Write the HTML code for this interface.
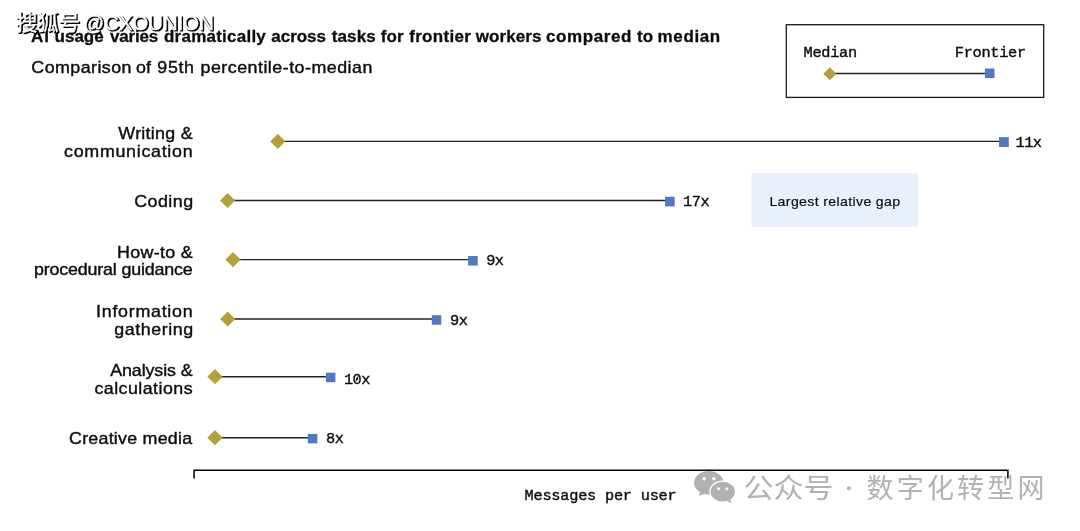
<!DOCTYPE html>
<html><head><meta charset="utf-8">
<style>
html,body{margin:0;padding:0;background:#fff;}
body{width:1080px;height:531px;position:relative;overflow:hidden;font-family:"Liberation Sans",sans-serif;color:#111;}
.abs{position:absolute;white-space:nowrap;line-height:1;}
svg text{white-space:pre;}
</style></head><body>
<svg class="abs" style="left:0;top:0;will-change:transform;opacity:0.999" width="1080" height="531" viewBox="0 0 1080 531">
<line x1="277.8" y1="141.40" x2="1000.0" y2="141.40" stroke="#222" stroke-width="1.4"/>
<path d="M270.20 141.40L277.80 133.80L285.40 141.40L277.80 149.00Z" fill="#b5a037"/>
<rect x="999.00" y="137.20" width="9.8" height="9.8" fill="#5378c3"/>
<line x1="227.6" y1="200.50" x2="666.1" y2="200.50" stroke="#222" stroke-width="1.4"/>
<path d="M220.00 200.50L227.60 192.90L235.20 200.50L227.60 208.10Z" fill="#b5a037"/>
<rect x="665.10" y="196.80" width="9.6" height="9.6" fill="#5378c3"/>
<line x1="233.0" y1="259.60" x2="469.1" y2="259.60" stroke="#222" stroke-width="1.4"/>
<path d="M225.40 259.60L233.00 252.00L240.60 259.60L233.00 267.20Z" fill="#b5a037"/>
<rect x="468.10" y="256.00" width="9.6" height="9.6" fill="#5378c3"/>
<line x1="227.7" y1="319.00" x2="432.8" y2="319.00" stroke="#222" stroke-width="1.4"/>
<path d="M220.10 319.00L227.70 311.40L235.30 319.00L227.70 326.60Z" fill="#b5a037"/>
<rect x="431.80" y="315.20" width="9.5" height="9.5" fill="#5378c3"/>
<line x1="215.0" y1="376.70" x2="326.9" y2="376.70" stroke="#222" stroke-width="1.4"/>
<path d="M207.40 376.70L215.00 369.10L222.60 376.70L215.00 384.30Z" fill="#b5a037"/>
<rect x="325.90" y="372.70" width="9.5" height="9.5" fill="#5378c3"/>
<line x1="214.9" y1="437.70" x2="308.8" y2="437.70" stroke="#222" stroke-width="1.4"/>
<path d="M207.30 437.70L214.90 430.10L222.50 437.70L214.90 445.30Z" fill="#b5a037"/>
<rect x="307.80" y="433.90" width="9.5" height="9.5" fill="#5378c3"/>
<rect x="786.3" y="24.7" width="257.4" height="72.7" fill="none" stroke="#1a1a1a" stroke-width="1.3"/>
<line x1="829.8" y1="73.5" x2="986" y2="73.5" stroke="#222" stroke-width="1.3"/>
<path d="M823.30 73.70L829.80 67.20L836.30 73.70L829.80 80.20Z" fill="#b5a037"/>
<rect x="984.9" y="68.5" width="9.6" height="9.6" fill="#5378c3"/>
<rect x="751.5" y="173.3" width="166.6" height="53.4" fill="#e9f0fd"/><g font-family="Liberation Sans, sans-serif" fill="#0d0d0d" stroke="#0d0d0d" stroke-width="0.4" stroke-linejoin="round">
<text transform="translate(31.10,42) scale(1.0,1)" textLength="17.85" lengthAdjust="spacing" font-size="17" font-weight="bold" stroke-width="0.3">AI</text>
<text transform="translate(54.60,42) scale(1.0,1)" textLength="49.10" lengthAdjust="spacing" font-size="17" font-weight="bold" stroke-width="0.3">usage</text>
<text transform="translate(110.00,42) scale(1.0,1)" textLength="48.20" lengthAdjust="spacing" font-size="17" font-weight="bold" stroke-width="0.3">varies</text>
<text transform="translate(164.00,42) scale(1.0,1)" textLength="101.80" lengthAdjust="spacing" font-size="17" font-weight="bold" stroke-width="0.3">dramatically</text>
<text transform="translate(271.30,42) scale(1.0,1)" textLength="54.70" lengthAdjust="spacing" font-size="17" font-weight="bold" stroke-width="0.3">across</text>
<text transform="translate(331.70,42) scale(1.0,1)" textLength="44.00" lengthAdjust="spacing" font-size="17" font-weight="bold" stroke-width="0.3">tasks</text>
<text transform="translate(380.80,42) scale(1.0,1)" textLength="22.90" lengthAdjust="spacing" font-size="17" font-weight="bold" stroke-width="0.3">for</text>
<text transform="translate(409.20,42) scale(1.0,1)" textLength="61.60" lengthAdjust="spacing" font-size="17" font-weight="bold" stroke-width="0.3">frontier</text>
<text transform="translate(475.80,42) scale(1.0,1)" textLength="65.70" lengthAdjust="spacing" font-size="17" font-weight="bold" stroke-width="0.3">workers</text>
<text transform="translate(546.00,42) scale(1.0,1)" textLength="85.50" lengthAdjust="spacing" font-size="17" font-weight="bold" stroke-width="0.3">compared</text>
<text transform="translate(637.00,42) scale(1.0,1)" textLength="16.20" lengthAdjust="spacing" font-size="17" font-weight="bold" stroke-width="0.3">to</text>
<text transform="translate(657.60,42) scale(1.0,1)" textLength="62.60" lengthAdjust="spacing" font-size="17" font-weight="bold" stroke-width="0.3">median</text>
<text transform="translate(31.30,72.7) scale(1.05,1)" textLength="95.43" lengthAdjust="spacing" font-size="17" >Comparison</text>
<text transform="translate(136.00,72.7) scale(1.05,1)" textLength="14.29" lengthAdjust="spacing" font-size="17" >of</text>
<text transform="translate(157.30,72.7) scale(1.05,1)" textLength="34.95" lengthAdjust="spacing" font-size="17" >95th</text>
<text transform="translate(200.50,72.7) scale(1.05,1)" textLength="163.71" lengthAdjust="spacing" font-size="17" >percentile-to-median</text>
<text transform="translate(192.88,139.4) scale(1.05,1)" font-size="17" letter-spacing="0.262" text-anchor="end">Writing &amp;</text>
<text transform="translate(193.32,157.2) scale(1.05,1)" font-size="17" letter-spacing="0.681" text-anchor="end">communication</text>
<text transform="translate(193.56,207.0) scale(1.05,1)" font-size="17" letter-spacing="0.44" text-anchor="end">Coding</text>
<text transform="translate(192.92,258.0) scale(1.05,1)" font-size="17" letter-spacing="0.304" text-anchor="end">How-to &amp;</text>
<text transform="translate(192.43,275.2) scale(1.05,1)" font-size="17" letter-spacing="-0.163" text-anchor="end">procedural guidance</text>
<text transform="translate(193.32,317.0) scale(1.05,1)" font-size="17" letter-spacing="0.689" text-anchor="end">Information</text>
<text transform="translate(193.65,335.1) scale(1.05,1)" font-size="17" letter-spacing="0.526" text-anchor="end">gathering</text>
<text transform="translate(192.50,376.0) scale(1.05,1)" font-size="17" letter-spacing="-0.093" text-anchor="end">Analysis &amp;</text>
<text transform="translate(193.05,394.0) scale(1.05,1)" font-size="17" letter-spacing="0.429" text-anchor="end">calculations</text>
<text transform="translate(192.34,444.0) scale(1.05,1)" font-size="17" letter-spacing="0.225" text-anchor="end">Creative media</text>
<text transform="translate(769.4,205.7) scale(1.05,1)" font-size="13.5" stroke-width="0.18" letter-spacing="0.32">Largest relative gap</text>
</g>
<g font-family="Liberation Mono, monospace" fill="#0d0d0d" stroke="#0d0d0d" stroke-width="0.38" font-size="15.3" letter-spacing="-0.3">
<text x="1015.5" y="146.7" letter-spacing="-0.5">11x</text>
<text x="683.1" y="205.9" letter-spacing="-0.5">17x</text>
<text x="486.2" y="265.3" letter-spacing="-0.5">9x</text>
<text x="450.0" y="324.6" letter-spacing="-0.5">9x</text>
<text x="343.9" y="383.5" letter-spacing="-0.5">10x</text>
<text x="326.0" y="442.7" letter-spacing="-0.5">8x</text>
<line x1="355.6" y1="381.6" x2="358.7" y2="375.6" stroke-width="1.0"/>
<text x="803.6" y="56.6">Median</text>
<text x="954.8" y="56.6">Frontier</text>
<text x="524.5" y="500.2" letter-spacing="-0.24">Messages per user</text>
</g>
<g fill="#b1b1b1">
<text x="743.5" y="497.5" font-family="Liberation Sans, Noto Sans CJK SC, sans-serif" font-size="27.5" textLength="90" lengthAdjust="spacingAndGlyphs">公众号</text><text x="866.5" y="497.5" font-family="Liberation Sans, Noto Sans CJK SC, sans-serif" font-size="27" textLength="178" lengthAdjust="spacing">数字化转型网</text><circle cx="848.8" cy="488.2" r="2"/>
<ellipse cx="708.8" cy="482.8" rx="14.7" ry="11.7"/><path d="M700.2 491.6L698.9 496.1L705.4 493.4Z"/>
<ellipse cx="722.8" cy="491.7" rx="13.5" ry="11.2" fill="#fff"/>
<ellipse cx="722.8" cy="491.7" rx="12.15" ry="9.9"/><path d="M727.2 500.4L731.1 503.4L730.4 499Z"/>
</g>
<g fill="#fff"><circle cx="704.1" cy="478.8" r="1.75"/><circle cx="713.9" cy="478.8" r="1.75"/><circle cx="718.6" cy="488.7" r="1.5"/><circle cx="726.9" cy="488.7" r="1.5"/></g>
<g fill="#000" stroke="#000" stroke-width="1.15" transform="translate(1.15,1.15)"><text x="16" y="30.3" font-family="Liberation Sans, Noto Sans CJK SC, sans-serif" font-size="21" textLength="64" lengthAdjust="spacingAndGlyphs">搜狐号</text>
<text x="83.6" y="29.9" font-family="Liberation Sans, sans-serif" font-size="20.35">@CXOUNION</text></g>
<g fill="#fff" stroke="#fff" stroke-width="0.3"><text x="16" y="30.3" font-family="Liberation Sans, Noto Sans CJK SC, sans-serif" font-size="21" textLength="64" lengthAdjust="spacingAndGlyphs">搜狐号</text>
<text x="83.6" y="29.9" font-family="Liberation Sans, sans-serif" font-size="20.35">@CXOUNION</text></g>
<path d="M194.1 478.6V470.15H1007.9V478.6" fill="none" stroke="#000" stroke-width="1.5"/>
</svg>
</body></html>
